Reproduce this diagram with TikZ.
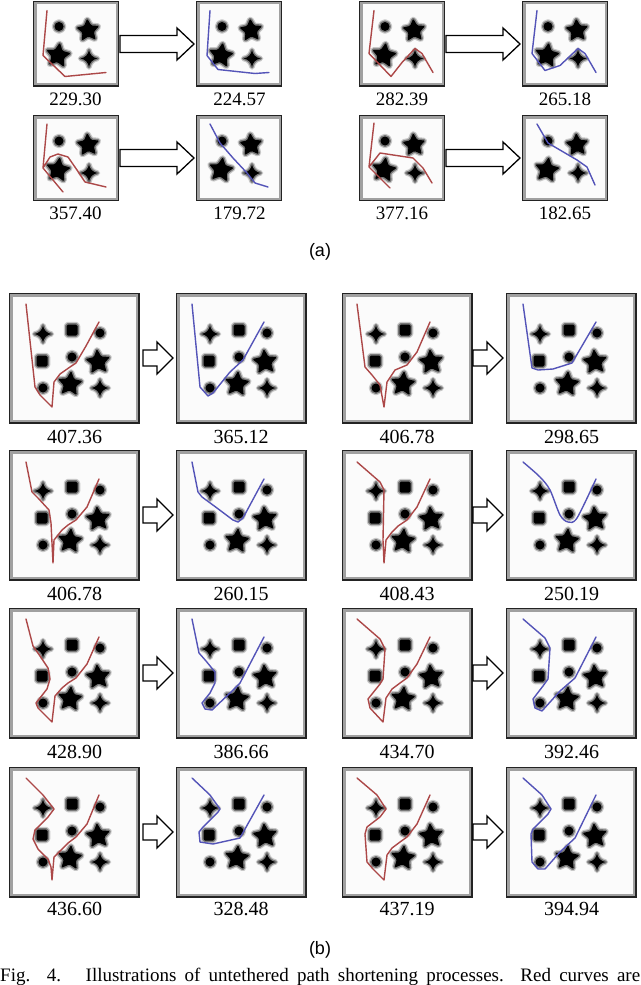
\documentclass[tikz,border=0pt]{standalone}
\usepackage{fontspec}
\setmainfont{Liberation Serif}
\setsansfont{Liberation Sans}
\definecolor{redc}{RGB}{172,72,72}
\definecolor{bluec}{RGB}{84,84,184}
\definecolor{haloA}{RGB}{200,200,200}
\definecolor{haloB}{RGB}{120,120,120}
\definecolor{paneledge}{RGB}{35,35,35}
\definecolor{panelband}{RGB}{160,160,160}
\definecolor{panelbg}{RGB}{251,251,251}
\tikzset{
 obst/.style={fill=black, line join=round, preaction={fill=haloA, draw=haloA, line width=5.5pt, line join=round}, preaction={draw=haloB, line width=3pt, line join=round}},
 rpath/.style={draw=redc, line width=1.4pt, line join=round, line cap=round},
 bpath/.style={draw=bluec, line width=1.4pt, line join=round, line cap=round},
 lblA/.style={inner sep=0pt, font=\fontsize{19}{19}\selectfont},
 lblB/.style={inner sep=0pt, font=\fontsize{20}{20}\selectfont},
 blockarrow/.style={draw=black, line width=1.3pt, fill=white, line join=miter},
}
\newcommand\StarF[5]{%
 \begin{scope}[shift={(#1,#2)},rotate=#5]
 \path[obst, rounded corners=1.2pt] (-90:#3) -- (-54:#4) -- (-18:#3) -- (18:#4) -- (54:#3) -- (90:#4) -- (126:#3) -- (162:#4) -- (198:#3) -- (234:#4) -- cycle;
 \end{scope}}
\newcommand\StarQ[3]{%
 \begin{scope}[shift={(#1,#2)}]
 \path[obst] (0,-#3) .. controls (0.12*#3,-0.42*#3) and (0.42*#3,-0.12*#3) .. (#3,0)
   .. controls (0.42*#3,0.12*#3) and (0.12*#3,0.42*#3) .. (0,#3)
   .. controls (-0.12*#3,0.42*#3) and (-0.42*#3,0.12*#3) .. (-#3,0)
   .. controls (-0.42*#3,-0.12*#3) and (-0.12*#3,-0.42*#3) .. (0,-#3) -- cycle;
 \end{scope}}
\newcommand\CircO[3]{\path[obst] (#1,#2) circle (#3);}
\newcommand\SqO[2]{\path[obst, rounded corners=1.5pt] (#1-5.5,#2-5.5) rectangle (#1+5.5,#2+5.5);}
\newcommand\FrameP[1]{%
 \fill[panelbg] (0,0) rectangle (#1,#1);
 \draw[panelband, line width=2.2pt] (2.4,2.4) rectangle (#1-2.4,#1-2.4);
 \draw[paneledge, line width=1.4pt] (0.7,0.7) rectangle (#1-0.7,#1-0.7);}
\newcommand\ObsA{\CircO{26}{26}{4.5}\StarF{55}{30}{12}{6}{4}\StarF{25}{55}{13}{6.5}{-8}\StarQ{56}{58}{8.5}}
\newcommand\ObsB{\StarQ{34}{41}{8.5}\SqO{63}{37}\CircO{91}{40}{4.5}\SqO{33}{68}\CircO{63}{64}{4.5}\StarF{89}{69}{13}{6.4}{5}\CircO{34}{95}{4.5}\StarF{61}{91}{13}{6.4}{-5}\StarQ{91}{95}{8.5}}
\newcommand\PanA[4]{\begin{scope}[shift={(#1,#2)}]\FrameP{86}\ObsA\draw[#3] #4;\end{scope}}
\newcommand\PanB[4]{\begin{scope}[shift={(#1,#2)}]\FrameP{130.5}\ObsB\draw[#3] #4;\end{scope}}
\newcommand\BArr[6]{\draw[blockarrow] (#1,#4-#5) -- (#2,#4-#5) -- (#2,#4-#6) -- (#3,#4) -- (#2,#4+#6) -- (#2,#4+#5) -- (#1,#4+#5) -- cycle;}
\begin{document}
\begin{tikzpicture}[x=1pt,y=-1pt]
\useasboundingbox (0,0) rectangle (640,985);
\clip (0,0) rectangle (640,985);
\fill[white] (0,0) rectangle (640,985);
% ---------- (a) ----------
\PanA{33}{0.5}{rpath}{(14,10) -- (10,55) -- (32,76) -- (73,72)}
\PanA{196}{0.5}{bpath}{(14,10) -- (11,55) -- (22,69) -- (59,73) -- (73,72)}
\PanA{359}{0.5}{rpath}{(15,10) -- (10,53) -- (32,76) -- (43,62) -- (56,48) -- (63,53) -- (74,72)}
\PanA{522}{0.5}{bpath}{(15,10) -- (10,53) -- (23,70) -- (38,65) -- (56,48) -- (63,53) -- (74,72)}
\PanA{33}{115}{rpath}{(14,9) -- (10,53) -- (30,77) (10,53) -- (17,42) -- (25,39) -- (35,42) -- (44,55) -- (52,67) -- (73,72)}
\PanA{196}{115}{bpath}{(14,9) -- (24,28) -- (37,43) -- (51,58) -- (59,68) -- (72,72)}
\PanA{359}{115}{rpath}{(15,8) -- (10,52) -- (31,73) (10,52) -- (21,38) -- (54,43) -- (64,53) -- (73,68)}
\PanA{522}{115}{bpath}{(15,9) -- (26,28) -- (55,45) -- (65,52) -- (73,70)}
\BArr{120}{177}{194}{44}{8.5}{16}
\BArr{446}{503}{520}{44}{8.5}{16}
\BArr{120}{177}{194}{158}{8.5}{16}
\BArr{446}{503}{520}{158}{8.5}{16}
\node[lblA] (la1) at (75.5,99) {229.30};
\node[lblA] (la2) at (239.5,99) {224.57};
\node[lblA] (la3) at (402,99) {282.39};
\node[lblA] (la4) at (565,99) {265.18};
\node[lblA] (la5) at (75.5,213) {357.40};
\node[lblA] (la6) at (239.5,213) {179.72};
\node[lblA] (la7) at (402,213) {377.16};
\node[lblA] (la8) at (565,213) {182.65};
\node[inner sep=0pt, font=\sffamily\fontsize{18}{18}\selectfont] (capa) at (320,252) {(a)};
% ---------- (b) ----------
% row 1
\PanB{9}{293}{rpath}{(17,11) -- (26,94) -- (31,102) -- (43,114) -- (45,89) -- (51,81) -- (61,74) -- (67,70) -- (77,53) -- (90,29)}
\PanB{176}{293}{bpath}{(16,11) -- (24,94) -- (32,103) -- (37,100) -- (54,79) -- (67,67) -- (88,29)}
\PanB{342}{293}{rpath}{(15,11) -- (23,74) -- (30,82) -- (38,92) -- (42,114) -- (45,89) -- (53,77) -- (65,72) -- (75,59) -- (88,29)}
\PanB{506}{293}{bpath}{(17,11) -- (26,75) -- (32,77) -- (47,76) -- (66,70) -- (90,29)}
% row 2
\PanB{9}{450}{rpath}{(17,12) -- (23,42) -- (29,48) -- (40,60) -- (42,73) -- (44,113) -- (45,90) -- (53,80) -- (59,75) -- (67,70) -- (78,57) -- (90,29)}
\PanB{176}{450}{bpath}{(16,12) -- (22,42) -- (26,47) -- (41,58) -- (57,70) -- (62,72) -- (67,68) -- (88,29)}
\PanB{342}{450}{rpath}{(15,12) -- (38,32) -- (42,40) -- (41,90) -- (42,113) -- (44,90) -- (50,82) -- (56,76) -- (65,70) -- (75,57) -- (88,29)}
\PanB{506}{450}{bpath}{plot[smooth, tension=0.5] coordinates {(17,12) (34,27) (44,40) (54,65) (62,72) (71,68) (90,29)}}
% row 3
\PanB{9}{608}{rpath}{(17,11) -- (24,38) -- (31,48) -- (39,60) -- (41,71) -- (38,81) -- (27,95) -- (29,100) -- (43,114) -- (46,88) -- (53,80) -- (59,75) -- (67,70) -- (78,56) -- (90,29)}
\PanB{176}{608}{bpath}{(16,11) -- (23,45) -- (30,53) -- (39,64) -- (39,75) -- (34,85) -- (26,95) -- (29,101) -- (36,102) -- (54,85) -- (64,75) -- (88,29)}
\PanB{342}{608}{rpath}{(15,11) -- (38,31) -- (43,41) -- (41,71) -- (38,76) -- (26,91) -- (28,100) -- (41,114) -- (44,90) -- (50,81) -- (58,75) -- (65,70) -- (75,56) -- (88,29)}
\PanB{506}{608}{bpath}{(17,11) -- (39,30) -- (44,40) -- (42,71) -- (37,78) -- (27,91) -- (29,100) -- (36,103) -- (54,83) -- (69,70) -- (90,29)}
% row 4
\PanB{9}{767}{rpath}{(17,11) -- (34,28) -- (45,42) -- (39,50) -- (26,63) -- (24,72) -- (29,82) -- (39,92) -- (42,100) -- (43,113) -- (45,90) -- (53,82) -- (59,76) -- (67,70) -- (78,57) -- (90,28)}
\PanB{176}{767}{bpath}{(16,11) -- (34,28) -- (44,42) -- (42,45) -- (27,60) -- (23,65) -- (24,75) -- (37,77) -- (64,71) -- (88,28)}
\PanB{342}{767}{rpath}{(15,11) -- (35,28) -- (44,42) -- (38,50) -- (25,60) -- (23,67) -- (25,95) -- (31,102) -- (42,113) -- (45,88) -- (50,81) -- (58,75) -- (65,70) -- (75,57) -- (88,28)}
\PanB{506}{767}{bpath}{(17,11) -- (36,28) -- (45,42) -- (42,47) -- (27,62) -- (25,67) -- (26,95) -- (32,102) -- (39,102) -- (54,85) -- (69,71) -- (90,28)}
% arrows (b)
\foreach \yt in {293,450,608,767}{
 \BArr{143}{157}{173}{\yt+65}{8}{16}
 \BArr{473}{487}{503}{\yt+65}{8}{16}
}
% labels (b)
\node[lblB] (lb1) at (74.5,437) {407.36};
\node[lblB] (lb2) at (241,437) {365.12};
\node[lblB] (lb3) at (407,437) {406.78};
\node[lblB] (lb4) at (571.5,437) {298.65};
\node[lblB] (lb5) at (74.5,594) {406.78};
\node[lblB] (lb6) at (241,594) {260.15};
\node[lblB] (lb7) at (407,594) {408.43};
\node[lblB] (lb8) at (571.5,594) {250.19};
\node[lblB] (lb9) at (74.5,752) {428.90};
\node[lblB] (lb10) at (241,752) {386.66};
\node[lblB] (lb11) at (407,752) {434.70};
\node[lblB] (lb12) at (571.5,752) {392.46};
\node[lblB] (lb13) at (74.5,909) {436.60};
\node[lblB] (lb14) at (241,909) {328.48};
\node[lblB] (lb15) at (407,909) {437.19};
\node[lblB] (lb16) at (571.5,909) {394.94};
\node[inner sep=0pt, font=\sffamily\fontsize{18}{18}\selectfont] (capb) at (320,950) {(b)};
\node[anchor=base west, inner sep=0pt, font=\fontsize{19}{19}\selectfont] (figcap) at (0,981) {\makebox[640pt][s]{Fig. 4.\ \ \ Illustrations of untethered path shortening processes. Red curves are}};
\end{tikzpicture}
\end{document}
